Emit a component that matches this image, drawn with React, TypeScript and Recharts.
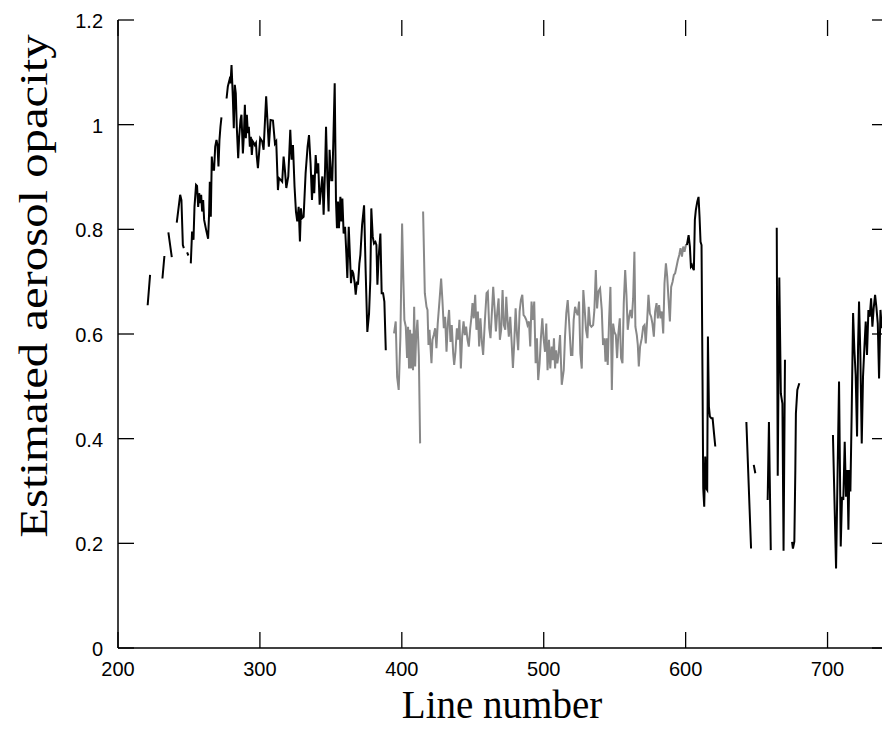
import { LineChart, Line, XAxis, YAxis } from 'recharts';

// line numbers / opacities; null marks a gap in the trace
const blackLineNumbers = [
  220.9, 222.6, 227,
  231.3, 232.7, 234,
  235.5, 237.9, 240,
  241.4, 243.8, 244.7, 245.7, 246.4, 247.5,
  248.7, 249.6, 250.5,
  251.3, 252.2, 253.2, 253.9, 255.0, 255.7, 256.5, 257.2, 257.9, 258.6, 259.3, 260.0, 260.7, 262.1, 263.5, 264.2,
  264.7, 265.4, 266.1, 266.8, 267.7, 268.5, 269.4, 270.1, 270.8, 271.5, 272.2, 272.9, 274.5,
  276.5, 277.4, 278.6, 279.3, 280.0, 280.9, 281.6, 282.3, 283.0, 283.7, 284.7, 285.4, 286.3, 287.0, 288.0, 288.7,
  289.4, 290.1, 290.8, 291.5, 292.2, 292.9, 293.6, 294.3, 295.0, 295.7, 296.4, 297.2, 297.8, 298.6, 299.4, 300.2,
  301.6, 302.6, 304.4, 306.3, 307.5, 309.2, 310.6, 311.5, 312.7, 313.4, 314.8, 315.7, 316.7, 317.6, 318.6, 320.0,
  321.4, 322.3, 323.3, 324.4, 325.4, 326.3, 327.3, 328.2, 328.9, 329.6, 330.8, 332.2, 333.6, 334.6, 335.7, 336.7,
  337.4, 338.3, 339.3, 340.2, 341.1, 342.1, 343.0, 344.0, 344.9, 345.9, 346.6, 347.5, 348.4, 349.1, 350.3, 351.0,
  351.7, 352.7, 353.6, 354.3, 355.0, 355.7, 356.7, 357.4, 358.1, 359.0, 360.0, 360.9, 361.6, 362.6, 363.5, 364.2,
  364.9, 365.8, 366.8, 367.5, 368.4, 369.1, 370.1, 370.8, 372.0, 373.4, 374.5, 375.7, 376.9, 377.8, 378.5, 379.5,
  380.4, 381.4, 382.1, 382.8, 383.7, 384.9, 385.8, 386.8, 387.7, 388.7, 495,
  600.9, 602.1, 603.0, 603.7, 604.4, 605.1, 605.8, 606.5, 607.2, 608.2, 609.1, 609.8, 610.5, 611.2, 611.9, 612.4,
  613.1, 613.8, 614.5, 615.2, 615.7, 616.4, 617.1, 618.1, 619.0, 620.0, 620.9, 630,
  642.8, 646.1, 647,
  648.0, 649.1, 653,
  657.8, 658.7, 660.0, 662,
  664.2, 664.9, 666.0, 667.1, 668.2, 669.0, 670.0, 672,
  675.0, 675.6, 676.6, 677.3, 677.7, 678.7, 680.1, 690,
  703.8, 706.0, 708.1, 709.3, 710.2, 711.1, 712.1, 713.0, 714.0, 714.7, 715.4, 716.1, 717.0, 718.0, 718.9, 719.8,
  720.8, 721.5, 722.2, 723.1, 724.1, 725.0, 726.0, 726.9, 727.8, 728.8, 729.7, 730.7, 731.6, 732.5, 733.5, 734.4,
  735.4, 736.3, 737.3, 738.2, 739.1,
];

const blackOpacity = [
  0.655, 0.713, null,
  0.706, 0.749, null,
  0.794, 0.747, null,
  0.813, 0.866, 0.856, 0.77, 0.764, null,
  0.756, 0.75, null,
  0.735, 0.796, 0.78, 0.843, 0.885, 0.883, 0.843, 0.869, 0.85, 0.866, 0.834, 0.856, 0.818, 0.799, 0.782, 0.831,
  0.891, 0.824, 0.939, 0.914, 0.914, 0.958, 0.971, 0.961, 0.92, 0.971, 0.996, 1.014, null,
  1.05, 1.073, 1.086, 1.079, 1.114, 1.054, 0.993, 1.076, 1.06, 0.996, 0.936, 0.977, 1.009, 1.019, 0.945, 0.98,
  1.038, 0.974, 1.019, 0.984, 0.996, 0.958, 0.977, 0.942, 0.968, 0.965, 0.961, 0.965, 0.939, 0.917, 0.945, 0.974,
  0.968, 0.952, 1.054, 0.958, 1.009, 1.008, 0.964, 0.968, 0.875, 0.898, 0.894, 0.891, 0.939, 0.914, 0.879, 0.901,
  0.99, 0.933, 0.961, 0.882, 0.834, 0.815, 0.843, 0.777, 0.84, 0.821, 0.824, 0.907, 0.958, 0.98, 0.926, 0.856,
  0.904, 0.869, 0.942, 0.907, 0.926, 0.847, 0.875, 0.901, 0.828, 0.914, 0.996, 0.901, 0.834, 0.952, 0.894, 0.894,
  0.964, 1.079, 0.856, 0.802, 0.853, 0.802, 0.862, 0.815, 0.859, 0.792, 0.805, 0.754, 0.707, 0.805, 0.745, 0.697,
  0.722, 0.716, 0.697, 0.675, 0.7, 0.694, 0.735, 0.751, 0.808, 0.846, 0.722, 0.604, 0.639, 0.703, 0.84, 0.786,
  0.773, 0.776, 0.77, 0.694, 0.748, 0.792, 0.678, 0.678, 0.662, 0.569, null,
  0.77, 0.789, 0.767, 0.729, 0.732, 0.726, 0.722, 0.818, 0.837, 0.853, 0.862, 0.824, 0.776, 0.77, 0.512, 0.305,
  0.27, 0.366, 0.305, 0.302, 0.595, 0.461, 0.442, 0.439, 0.439, 0.41, 0.385, null,
  0.432, 0.19, null,
  0.35, 0.334, null,
  0.283, 0.432, 0.187, null,
  0.803, 0.329, 0.708, 0.486, 0.467, 0.186, 0.551, null,
  0.203, 0.19, 0.203, 0.34, 0.448, 0.493, 0.506, null,
  0.407, 0.152, 0.509, 0.194, 0.289, 0.283, 0.394, 0.289, 0.34, 0.226, 0.34, 0.299, 0.448, 0.64, 0.57, 0.522,
  0.404, 0.576, 0.662, 0.563, 0.391, 0.519, 0.576, 0.624, 0.56, 0.646, 0.633, 0.668, 0.614, 0.649, 0.675, 0.652,
  0.62, 0.515, 0.646, 0.611, 0.633,
];

const greyLineNumbers = [
  394.5, 395.7, 396.7, 397.8, 399.0, 400.2, 401.1, 401.8, 402.8, 403.7, 404.4, 405.1, 405.8, 406.5, 407.2, 407.9,
  408.7, 409.4, 410.1, 411.0, 412.0, 412.9, 413.9,
  415.0, 416.2, 417.4, 418.1, 418.8, 419.5, 420.2, 420.9, 421.6, 422.5, 423.5, 424.4, 425.3, 426.5, 427.7, 428.6,
  429.6, 430.5, 431.5, 432.4, 433.3, 434.3, 435.2, 436.2, 436.9, 437.8, 438.8, 439.7, 440.6, 441.6, 442.5, 443.5,
  444.4, 445.3, 446.3, 447.2, 448.2, 449.1, 449.8, 450.7, 451.7, 452.6, 453.6, 454.5, 455.4, 456.4, 457.3, 458.5,
  459.7, 460.6, 461.6, 462.5, 463.5, 464.4, 465.3, 466.3, 467.2, 468.2, 469.1, 470.0, 471.0, 471.9, 472.9, 473.6,
  474.5, 475.4, 476.4, 477.3, 478.3, 479.2, 480.2, 481.1, 482.0, 483.0, 483.9, 484.9, 485.8, 486.7, 487.7, 488.6,
  489.6, 490.5, 491.4, 492.4, 493.3, 494.3, 495.2, 496.1, 497.1, 498.0, 499.0, 499.9, 500.9, 501.8, 502.7, 503.7,
  504.6, 505.6, 506.5, 507.2, 508.0, 508.7, 509.6, 510.3, 511.5, 512.7, 514.1, 515.0, 515.9, 516.9, 517.8, 519.2,
  520.2, 521.1, 522.1, 523.0, 523.9, 524.9, 525.8, 526.8, 527.9, 528.9, 529.8, 530.8, 531.7, 532.7, 533.6, 534.8,
  535.7, 536.7, 537.6, 538.5, 539.7, 540.9, 541.8, 542.8, 543.5, 544.4, 545.1, 546.1, 547.0, 548.0, 548.9, 549.8,
  550.8, 551.7, 552.6, 553.6, 554.5, 555.5, 556.4, 557.4, 558.3, 559.2, 560.2, 561.1, 562.1, 563.0, 563.9, 564.6,
  565.6, 566.3, 567.0, 567.9, 569.1, 570.1, 571.0, 571.9, 572.9, 573.8, 574.8, 575.7, 576.6, 577.6, 578.5, 579.5,
  580.4, 581.3, 582.3, 583.2, 584.2, 585.1, 586.1, 587.0, 587.9, 588.9, 589.8, 590.8, 591.7, 592.6, 593.6, 594.5,
  595.5, 596.4, 597.4, 598.3, 599.2, 600.2, 600.9,
];

const greyOpacity = [
  0.601, 0.624, 0.518, 0.493, 0.595, 0.811, 0.703, 0.627, 0.614, 0.554, 0.614, 0.534, 0.608, 0.534, 0.601, 0.531,
  0.652, 0.538, 0.595, 0.627, 0.557, 0.391, null,
  0.834, 0.678, 0.652, 0.646, 0.579, 0.608, 0.576, 0.544, 0.589, 0.598, 0.611, 0.573, 0.62, 0.662, 0.706, 0.665,
  0.611, 0.633, 0.566, 0.62, 0.646, 0.585, 0.617, 0.563, 0.541, 0.566, 0.611, 0.589, 0.627, 0.534, 0.595, 0.624,
  0.598, 0.614, 0.589, 0.576, 0.611, 0.633, 0.659, 0.63, 0.675, 0.608, 0.643, 0.576, 0.63, 0.585, 0.56, 0.624,
  0.678, 0.681, 0.611, 0.592, 0.643, 0.69, 0.652, 0.605, 0.64, 0.668, 0.589, 0.608, 0.684, 0.617, 0.608, 0.671,
  0.627, 0.595, 0.633, 0.589, 0.535, 0.582, 0.649, 0.601, 0.569, 0.643, 0.665, 0.675, 0.636, 0.633, 0.627, 0.617,
  0.624, 0.576, 0.662, 0.627, 0.662, 0.544, 0.592, 0.512, 0.544, 0.592, 0.63, 0.592, 0.566, 0.62, 0.531, 0.589,
  0.534, 0.576, 0.55, 0.592, 0.534, 0.569, 0.544, 0.557, 0.598, 0.503, 0.531, 0.595, 0.64, 0.665, 0.627, 0.56,
  0.56, 0.627, 0.652, 0.643, 0.636, 0.662, 0.563, 0.534, 0.684, 0.646, 0.608, 0.592, 0.652, 0.617, 0.614, 0.617,
  0.646, 0.722, 0.649, 0.681, 0.687, 0.646, 0.579, 0.592, 0.547, 0.592, 0.541, 0.63, 0.69, 0.493, 0.62, 0.604,
  0.598, 0.554, 0.601, 0.63, 0.554, 0.544, 0.659, 0.722, 0.675, 0.608, 0.633, 0.646, 0.63, 0.668, 0.757, 0.614,
  0.598, 0.579, 0.538, 0.576, 0.592, 0.614, 0.617, 0.582, 0.627, 0.675, 0.639, 0.633, 0.62, 0.595, 0.643, 0.659,
  0.63, 0.655, 0.63, 0.643, 0.601, 0.697, 0.735, 0.71, 0.668, 0.624, 0.69, 0.7, 0.713, 0.716, 0.729, 0.741,
  0.751, 0.764, 0.748, 0.767, 0.757, 0.77, 0.77,
];

const xTicks = [200, 300, 400, 500, 600, 700];
const yTicks = [0, 0.2, 0.4, 0.6, 0.8, 1, 1.2];

const blackData = blackLineNumbers.map((x, i) => ({ x, v: blackOpacity[i] }));
const greyData = greyLineNumbers.map((x, i) => ({ x, v: greyOpacity[i] }));

const PLOT_LEFT = 118;
const PLOT_RIGHT = 888;
const PLOT_TOP = 20;
const PLOT_BOTTOM = 648;
const TICK = 16;
const tickFont = '"Liberation Sans", Arial, sans-serif';
const titleFont = '"Liberation Serif", "Times New Roman", serif';

const BottomTick = ({ x, payload }: any) => (
  <g>
    <line x1={x} x2={x} y1={PLOT_BOTTOM} y2={PLOT_BOTTOM - TICK} stroke="#000" strokeWidth={1.3} />
    <line x1={x} x2={x} y1={PLOT_TOP} y2={PLOT_TOP + TICK} stroke="#000" strokeWidth={1.3} />
    <text
      transform={`translate(${x},${PLOT_BOTTOM + 28}) scale(1,1.05)`}
      textAnchor="middle"
      fontSize={20}
      fontFamily={tickFont}
      fill="#000"
    >
      {payload.value}
    </text>
  </g>
);

const LeftTick = ({ y, payload }: any) => (
  <g>
    <line x1={PLOT_LEFT} x2={PLOT_LEFT + TICK} y1={y} y2={y} stroke="#000" strokeWidth={1.3} />
    <line x1={PLOT_RIGHT} x2={PLOT_RIGHT - TICK} y1={y} y2={y} stroke="#000" strokeWidth={1.3} />
    <text
      transform={`translate(${PLOT_LEFT - 15},${y + 8}) scale(1,1.05)`}
      textAnchor="end"
      fontSize={20}
      fontFamily={tickFont}
      fill="#000"
    >
      {payload.value}
    </text>
  </g>
);

export default function App() {
  return (
    <div style={{ position: 'absolute', left: 0, top: 0, width: 882, height: 735, overflow: 'hidden', background: '#fff' }}>
      <LineChart width={890} height={735} margin={{ top: PLOT_TOP, right: 0, bottom: 0, left: 0 }}>
        <XAxis
          dataKey="x"
          type="number"
          domain={[200, 742.6]}
          allowDataOverflow
          ticks={xTicks}
          height={735 - PLOT_BOTTOM}
          tickLine={false}
          tick={<BottomTick />}
          axisLine={{ stroke: '#000', strokeWidth: 1.5 }}
        />
        <XAxis
          xAxisId="top"
          orientation="top"
          type="number"
          domain={[200, 742.6]}
          allowDataOverflow
          height={0}
          tick={false}
          tickLine={false}
          axisLine={{ stroke: '#000', strokeWidth: 1.5 }}
        />
        <YAxis
          type="number"
          domain={[0, 1.2]}
          allowDataOverflow
          ticks={yTicks}
          width={PLOT_LEFT}
          tickLine={false}
          tick={<LeftTick />}
          axisLine={{ stroke: '#000', strokeWidth: 1.5 }}
        />
        <YAxis
          yAxisId="right"
          orientation="right"
          type="number"
          domain={[0, 1.2]}
          width={890 - PLOT_RIGHT}
          tick={false}
          tickLine={false}
          axisLine={{ stroke: '#000', strokeWidth: 1.5 }}
        />
        <Line data={greyData} dataKey="v" stroke="#888888" strokeWidth={2} dot={false} isAnimationActive={false} />
        <Line data={blackData} dataKey="v" stroke="#000000" strokeWidth={2} dot={false} isAnimationActive={false} />
      </LineChart>
      <svg width={882} height={735} style={{ position: 'absolute', left: 0, top: 0, pointerEvents: 'none' }}>
        <text
          transform="translate(502,718)"
          textAnchor="middle"
          fontSize={39}
          fontFamily={titleFont}
          fill="#000"
        >
          Line number
        </text>
        <text
          transform="translate(47,286) rotate(-90) scale(1.25,1)"
          textAnchor="middle"
          fontSize={39}
          fontFamily={titleFont}
          fill="#000"
        >
          Estimated aerosol opacity
        </text>
      </svg>
    </div>
  );
}
